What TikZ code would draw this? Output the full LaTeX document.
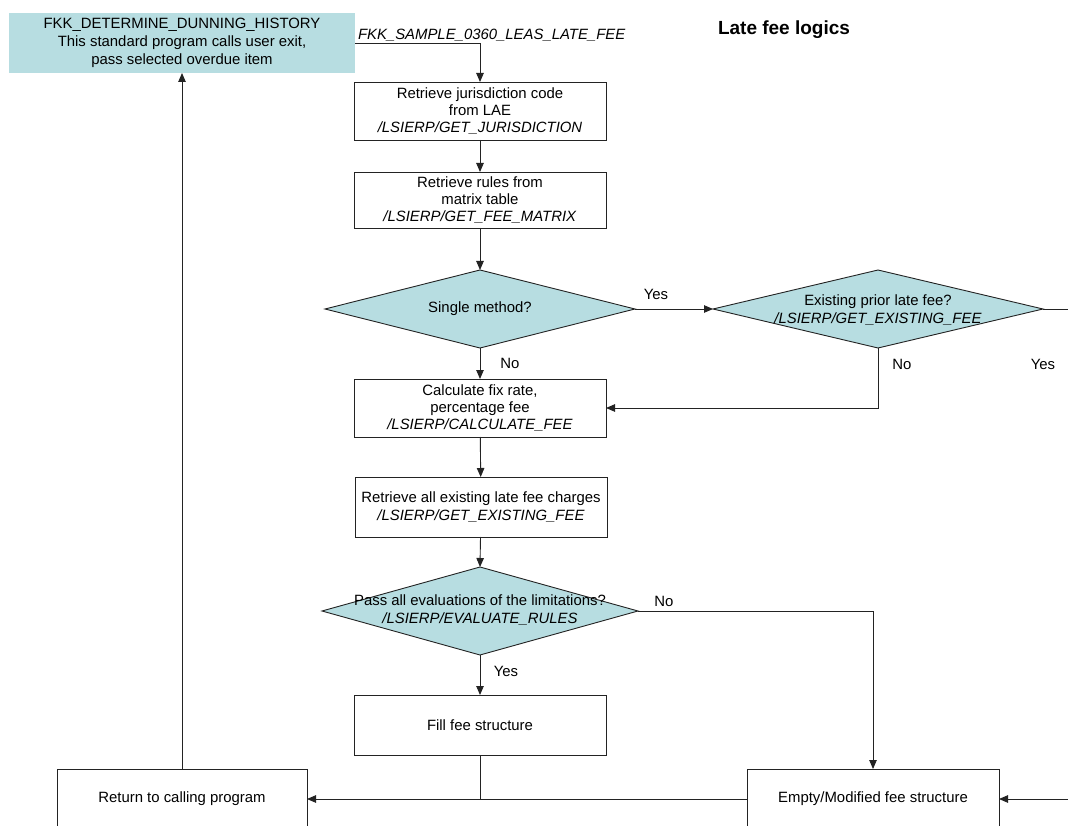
\documentclass[tikz,border=0pt]{standalone}
\usepackage{fontspec}
\setmainfont{Liberation Sans}
\usetikzlibrary{shapes.geometric,arrows.meta}
\definecolor{decfill}{RGB}{183,221,225}
\definecolor{edge}{RGB}{35,35,35}

\begin{document}
\begin{tikzpicture}[x=1pt,y=-1pt,
  font=\fontsize{14.9}{17.3}\selectfont,
  every node/.style={inner sep=0pt, outer sep=0pt},
  procbox/.style={draw=edge, line width=0.9pt, fill=white, align=center,
    minimum width=252pt, minimum height=#1},
  headbox/.style={fill=decfill, align=center, minimum width=346pt, minimum height=60pt},
  decision/.style={diamond, draw=edge, line width=0.9pt, fill=decfill},
  dectext/.style={align=center},
  flow/.style={line width=0.9pt, draw=edge, -{Triangle[length=9pt,width=7.5pt]}},
  plain/.style={line width=0.9pt, draw=edge},
  lbl/.style={anchor=center}
]
\useasboundingbox (0,0) rectangle (1068,826);
\clip (0,0) rectangle (1068,826);

% title
\node[anchor=base west, font=\fontsize{19}{22}\selectfont\bfseries] (title) at (718,35) {Late fee logics};

% calling program
\node[headbox, font=\fontsize{14.9}{18}\selectfont] (hist) at (182,43) {FKK\_DETERMINE\_DUNNING\_HISTORY\\This standard program calls user exit,\\pass selected overdue item};
\node[anchor=base west, font=\fontsize{14.9}{17}\selectfont\itshape] (exit) at (358,40) {FKK\_SAMPLE\_0360\_LEAS\_LATE\_FEE};

% process steps
\node[procbox=58pt] (b1) at (480,111) {Retrieve jurisdiction code\\from LAE\\\textit{/LSIERP/GET\_JURISDICTION}};
\node[procbox=56pt] (b2) at (480,200) {Retrieve rules from\\matrix table\\\textit{/LSIERP/GET\_FEE\_MATRIX}};

\node[decision, minimum width=310pt, minimum height=78pt] (d1) at (480,309) {};
\node[dectext] (d1t) at (d1.center) {Single method?};

\node[decision, minimum width=330pt, minimum height=78pt] (d2) at (878,309) {};
\node[dectext] (d2t) at (878,310) {Existing prior late fee?\\\textit{/LSIERP/GET\_EXISTING\_FEE}};

\node[procbox=58pt] (b3) at (480,408) {Calculate fix rate,\\percentage fee\\\textit{/LSIERP/CALCULATE\_FEE}};
\node[procbox=60pt] (b4) at (481,507) {Retrieve all existing late fee charges\\\textit{/LSIERP/GET\_EXISTING\_FEE}};

\node[decision, minimum width=316pt, minimum height=88pt] (d3) at (480,611) {};
\node[dectext] (d3t) at (480,610) {Pass all evaluations of the limitations?\\\textit{/LSIERP/EVALUATE\_RULES}};

\node[procbox=60pt] (fill) at (480,725) {Fill fee structure};
\node[procbox=60pt, minimum width=250pt] (ret) at (182,799) {Return to calling program};
\node[procbox=60pt] (empty) at (873,799) {Empty/Modified fee structure};

% loose ends leaving the right margin
\coordinate (d2out) at (1080,309);
\coordinate (inright) at (1080,799);

% connectors
\draw[flow] (hist.east) -| (b1.north);
\draw[flow] (b1) -- (b2);
\draw[flow] (b2) -- (d1.north);
\draw[flow] (d1.south) -- (b3.north);
\draw[flow] (d1.east) -- (d2.west);
\draw[plain] (d2.east) -- (d2out);
\draw[flow] (d2.south) |- (b3.east);
\draw[flow] (b3) -- (b4);
\draw[flow] (b4) -- (d3.north);
\draw[flow] (d3.south) -- (fill.north);
\draw[flow] (d3.east) -| (empty.north);
\draw[plain] (fill.south) -- (fill.south |- ret.east);
\draw[flow] (empty.west) -- (ret.east);
\draw[flow] (inright) -- (empty.east);
\draw[flow] (ret.north) -- (hist.south);

% branch labels
\node[lbl] (l1) at (656,294) {Yes};
\node[lbl] (l2) at (510,363) {No};
\node[lbl] (l3) at (902,364) {No};
\node[lbl] (l4) at (1043,364) {Yes};
\node[lbl] (l5) at (664,601) {No};
\node[lbl] (l6) at (506,671) {Yes};
\end{tikzpicture}
\end{document}
